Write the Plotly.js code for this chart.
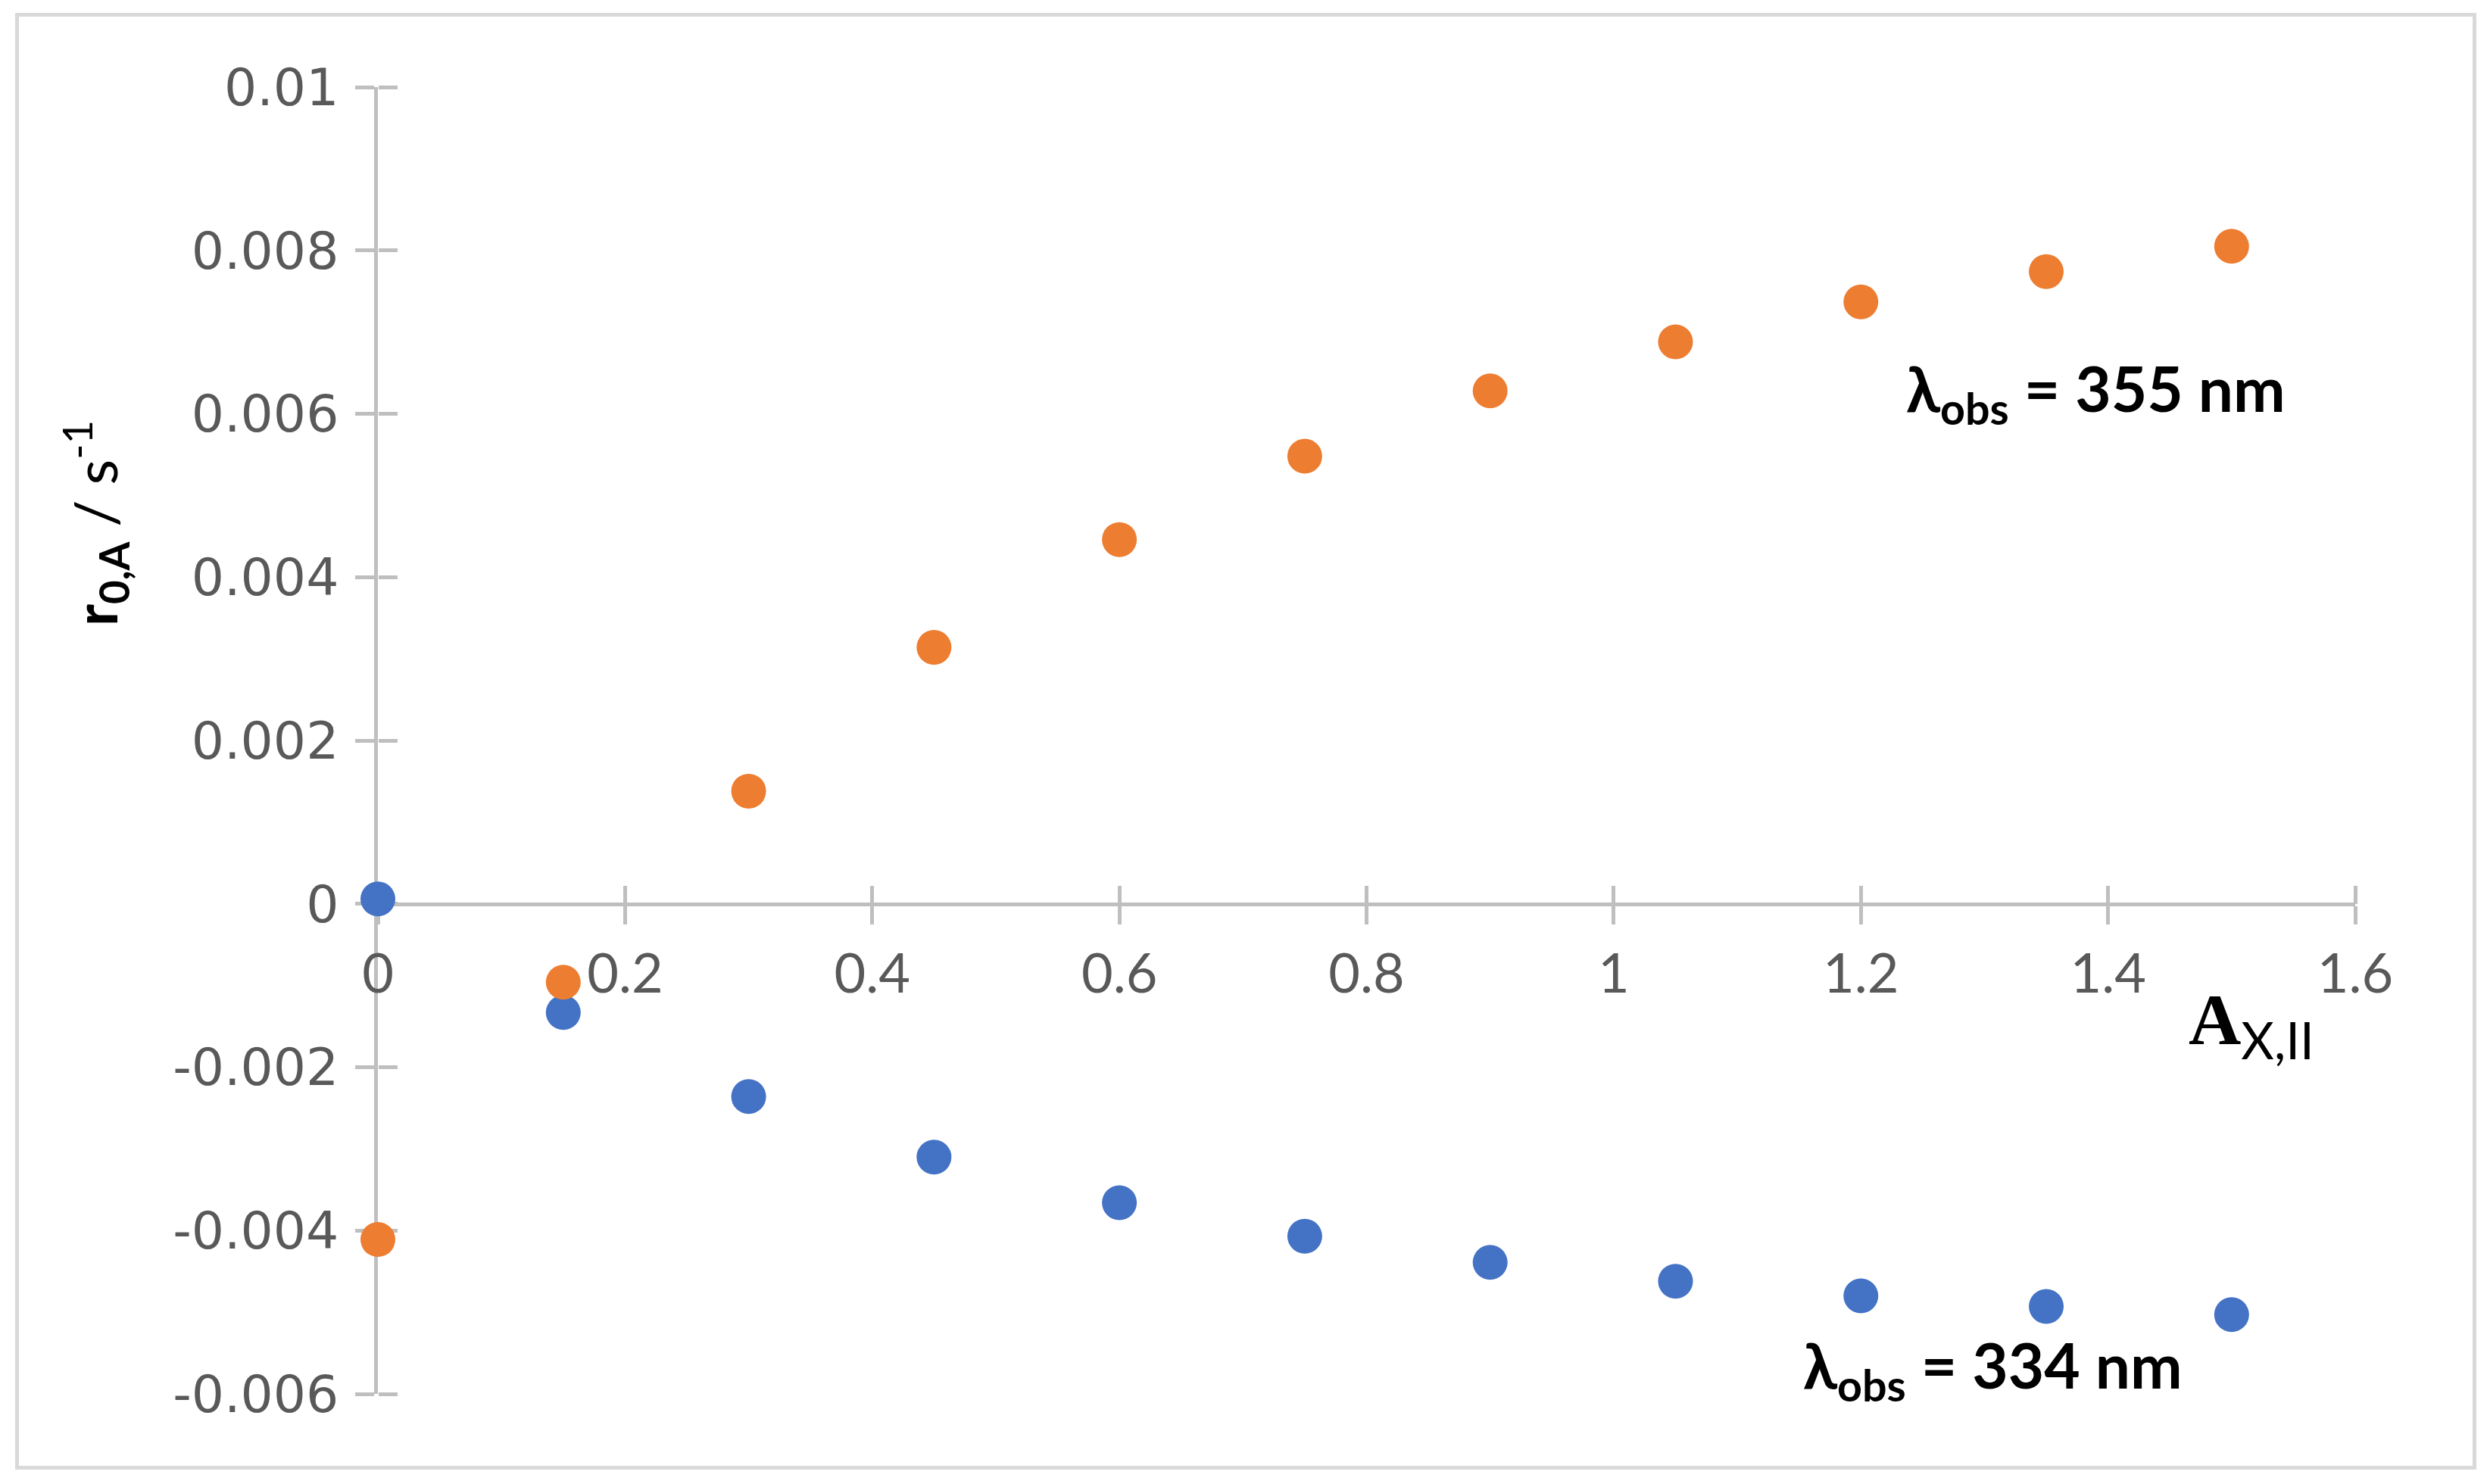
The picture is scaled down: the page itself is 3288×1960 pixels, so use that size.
<!DOCTYPE html>
<html>
<head>
<meta charset="utf-8">
<script src="https://cdn.plot.ly/plotly-3.0.1.min.js"></script>
<style>
  body { margin: 0; background: #fff; }
  #plot { width: 3288px; height: 1960px; }
  #frame { position: absolute; left: 20px; top: 17px; width: 3240px; height: 1914px;
           border: 5px solid #d9d9d9; pointer-events: none; }
</style>
</head>
<body>
<div id="plot"></div>
<div id="frame"></div>
<script>
// absorbance values (x) shared by both series
var absX = [0, 0.15, 0.3, 0.45, 0.6, 0.75, 0.9, 1.05, 1.2, 1.35, 1.5];
// initial rate at 334 nm (blue) and 355 nm (orange)
var rate334 = [0.00006, -0.00133, -0.00236, -0.0031, -0.00366, -0.00407, -0.00439, -0.00462, -0.0048, -0.00493, -0.00503];
var rate355 = [-0.00411, -0.00096, 0.00138, 0.00314, 0.00446, 0.00548, 0.00628, 0.00688, 0.00737, 0.00774, 0.00805];

var xRange = [0, 1.6];
var yRange = [-0.006, 0.01];
var xTicks = [0, 0.2, 0.4, 0.6, 0.8, 1, 1.2, 1.4, 1.6];
var xTickText = ['0', '0.2', '0.4', '0.6', '0.8', '1', '1.2', '1.4', '1.6'];
var yTicks = [-0.006, -0.004, -0.002, 0, 0.002, 0.004, 0.006, 0.008, 0.01];
var yTickText = ['-0.006', '-0.004', '-0.002', '0', '0.002', '0.004', '0.006', '0.008', '0.01'];

// x axis sits at y = 0
var zeroPos = (0 - yRange[0]) / (yRange[1] - yRange[0]);

var blue = {
  x: absX, y: rate334, name: '334 nm',
  mode: 'markers', type: 'scatter', cliponaxis: false,
  marker: {color: '#4472C4', size: 46}
};
var orange = {
  x: absX, y: rate355, name: '355 nm',
  mode: 'markers', type: 'scatter', cliponaxis: false,
  marker: {color: '#ED7D31', size: 46}
};
// empty traces so the overlay axes (other half of the cross ticks) get drawn
var tickX = {x: [], y: [], xaxis: 'x2', yaxis: 'y', type: 'scatter', mode: 'markers', hoverinfo: 'skip'};
var tickY = {x: [], y: [], xaxis: 'x', yaxis: 'y2', type: 'scatter', mode: 'markers', hoverinfo: 'skip'};

var axisGrey = '#BFBFBF';
var tickGrey = '#595959';

var layout = {
  width: 3288, height: 1960,
  margin: {l: 499, r: 178, t: 115, b: 119},
  showlegend: false,
  paper_bgcolor: '#fff', plot_bgcolor: 'rgba(0,0,0,0)',
  xaxis: {
    range: xRange, anchor: 'free', position: zeroPos,
    showgrid: false, zeroline: false, layer: 'below traces',
    showline: true, linecolor: axisGrey, linewidth: 5,
    ticks: 'outside', ticklen: 24, tickwidth: 5, tickcolor: axisGrey,
    tickvals: xTicks, ticktext: xTickText,
    tickfont: {family: 'Lato, sans-serif', size: 72, color: tickGrey},
    ticklabelstandoff: 4
  },
  // mirrored x axis on the top side of the same line: its "outside" ticks point up
  xaxis2: {
    range: xRange, overlaying: 'x', anchor: 'free', position: zeroPos, side: 'top',
    showgrid: false, zeroline: false, showline: false, layer: 'below traces',
    ticks: 'outside', ticklen: 24, tickwidth: 5, tickcolor: axisGrey,
    tickvals: xTicks, showticklabels: false
  },
  yaxis: {
    range: yRange,
    showgrid: false, zeroline: false, layer: 'below traces',
    showline: true, linecolor: axisGrey, linewidth: 5,
    ticks: 'outside', ticklen: 25, tickwidth: 5, tickcolor: axisGrey,
    tickvals: yTicks, ticktext: yTickText,
    tickfont: {family: 'DejaVu Sans, sans-serif', size: 68, color: tickGrey},
    ticklabelstandoff: 8
  },
  // mirrored y axis on the right side of the same line: its "outside" ticks point right
  yaxis2: {
    range: yRange, overlaying: 'y', anchor: 'free', position: 0, side: 'right',
    showgrid: false, zeroline: false, showline: false, layer: 'below traces',
    ticks: 'outside', ticklen: 25, tickwidth: 5, tickcolor: axisGrey,
    tickvals: yTicks, showticklabels: false
  },
  annotations: [
    {
      xref: 'paper', yref: 'paper', x: -0.143, y: 0.666, textangle: -90,
      showarrow: false, xanchor: 'center', yanchor: 'middle',
      text: '<b>r<sub>0,A</sub></b> / s<sup>-1</sup>',
      font: {family: 'Lato, sans-serif', size: 78, color: '#000'}
    },
    {
      xref: 'x', yref: 'y', x: 1.516, y: -0.00148,
      showarrow: false, xanchor: 'center', yanchor: 'middle',
      text: '<b>A</b><sub><span style="font-family:Lato">X,II</span></sub>',
      font: {family: 'Liberation Serif, serif', size: 96, color: '#000'}
    },
    {
      xref: 'x', yref: 'y', x: 1.39, y: 0.00626,
      showarrow: false, xanchor: 'center', yanchor: 'middle',
      text: '<b>λ<sub>obs</sub> = 355 nm</b>',
      font: {family: 'Lato, sans-serif', size: 82, color: '#000'}
    },
    {
      xref: 'x', yref: 'y', x: 1.307, y: -0.00569,
      showarrow: false, xanchor: 'center', yanchor: 'middle',
      text: '<b>λ<sub>obs</sub> = 334 nm</b>',
      font: {family: 'Lato, sans-serif', size: 82, color: '#000'}
    }
  ]
};

Plotly.newPlot('plot', [tickX, tickY, blue, orange], layout, {staticPlot: true});
</script>
</body>
</html>
